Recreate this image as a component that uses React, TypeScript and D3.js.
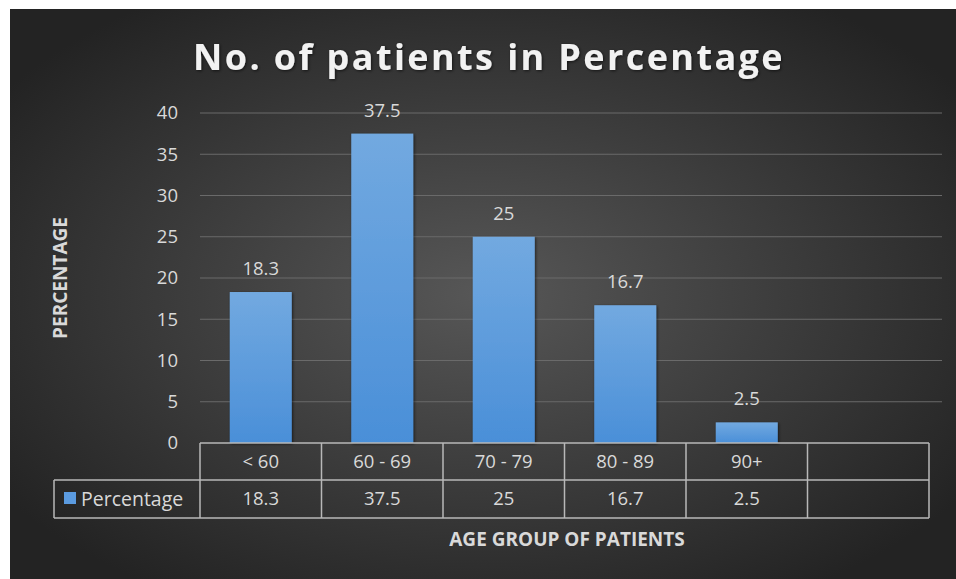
import React from "react";
import * as d3 from "d3";

const categories = ["< 60", "60 - 69", "70 - 79", "80 - 89", "90+", ""];
const values = [18.3, 37.5, 25, 16.7, 2.5];
const yTicks = [0, 5, 10, 15, 20, 25, 30, 35, 40];
const seriesName = "Percentage";
const title = "No. of patients in Percentage";
const yTitle = "PERCENTAGE";
const xTitle = "AGE GROUP OF PATIENTS";

const W = 956;
const H = 579;
const font = "'Open Sans', 'Noto Sans', sans-serif";

export default function App() {
  const x = d3.scaleBand<string>().domain(categories.map((c, i) => String(i))).range([200, 929]).paddingInner(0).paddingOuter(0);
  const y = d3.scaleLinear().domain([0, 40]).range([443, 113]);
  const bw = x.bandwidth();
  const barW = bw * 0.51;
  const row1 = 480;
  const row2 = 518;
  const txt = "#d9d9d9";
  const line = "#b8b8b8";
  const fs = 18.5;
  return (
    <svg width={W} height={H} style={{ position: "absolute", left: 0, top: 0 }}>
      <defs>
        <radialGradient id="bg" cx="50%" cy="50%" r="62%">
          <stop offset="0%" stopColor="#575757" />
          <stop offset="100%" stopColor="#232323" />
        </radialGradient>
        <linearGradient id="bar" x1="0" y1="0" x2="0" y2="1">
          <stop offset="0%" stopColor="#72a9e0" />
          <stop offset="100%" stopColor="#4a8fd8" />
        </linearGradient>
        <filter id="sh" x="-20%" y="-20%" width="140%" height="140%">
          <feDropShadow dx="1" dy="1" stdDeviation="1.5" floodColor="#000" floodOpacity="0.6" />
        </filter>
      </defs>
      <rect x={0} y={0} width={W} height={H} fill="#ffffff" />
      <rect x={10} y={9} width={W - 10} height={H - 9} fill="url(#bg)" />
      <text x={489} y={70} textAnchor="middle" fill="#f2f2f2" fontFamily={font} fontWeight="bold" fontSize={36} letterSpacing={2.4} filter="url(#sh)">{title}</text>
      {yTicks.map((t) => (
        <g key={t}>
          {t > 0 && <line x1={200} x2={942} y1={y(t)} y2={y(t)} stroke="#6a6a6a" strokeWidth={1.2} />}
          <text x={178} y={y(t)} dy="0.35em" textAnchor="end" fill={txt} fontFamily={font} fontSize={fs}>{t}</text>
        </g>
      ))}
      {values.map((v, i) => {
        const cx = (x(String(i)) as number) + bw / 2;
        return (
          <g key={i}>
            <rect x={cx - barW / 2} y={y(v)} width={barW} height={y(0) - y(v)} fill="url(#bar)" filter="url(#sh)" />
            <text x={cx} y={y(v) - 17} textAnchor="middle" fill={txt} fontFamily={font} fontSize={fs}>{v}</text>
          </g>
        );
      })}
      {/* data table */}
      <g stroke={line} strokeWidth={1.5} fill="none">
        <line x1={200} x2={929} y1={443} y2={443} />
        <line x1={54} x2={929} y1={row1} y2={row1} />
        <line x1={54} x2={929} y1={row2} y2={row2} />
        <line x1={54} x2={54} y1={row1} y2={row2} />
        {categories.map((c, i) => (
          <line key={i} x1={x(String(i)) as number} x2={x(String(i)) as number} y1={443} y2={row2} />
        ))}
        <line x1={929} x2={929} y1={443} y2={row2} />
      </g>
      {categories.map((c, i) => {
        const cx = (x(String(i)) as number) + bw / 2;
        return (
          <g key={i}>
            <text x={cx} y={462} dy="0.35em" textAnchor="middle" fill={txt} fontFamily={font} fontSize={fs}>{c}</text>
            {i < values.length && (
              <text x={cx} y={499} dy="0.35em" textAnchor="middle" fill={txt} fontFamily={font} fontSize={fs}>{values[i]}</text>
            )}
          </g>
        );
      })}
      <rect x={64} y={492} width={12} height={12} fill="#5b9be0" />
      <text x={81} y={499} dy="0.35em" fill={txt} fontFamily={font} fontSize={19.5}>{seriesName}</text>
      <text x={567} y={539} dy="0.35em" textAnchor="middle" fill={txt} fontFamily={font} fontWeight="bold" fontSize={19}>{xTitle}</text>
      <text transform={`translate(60,278) rotate(-90)`} textAnchor="middle" dy="0.35em" fill={txt} fontFamily={font} fontWeight="bold" fontSize={19}>{yTitle}</text>
    </svg>
  );
}
